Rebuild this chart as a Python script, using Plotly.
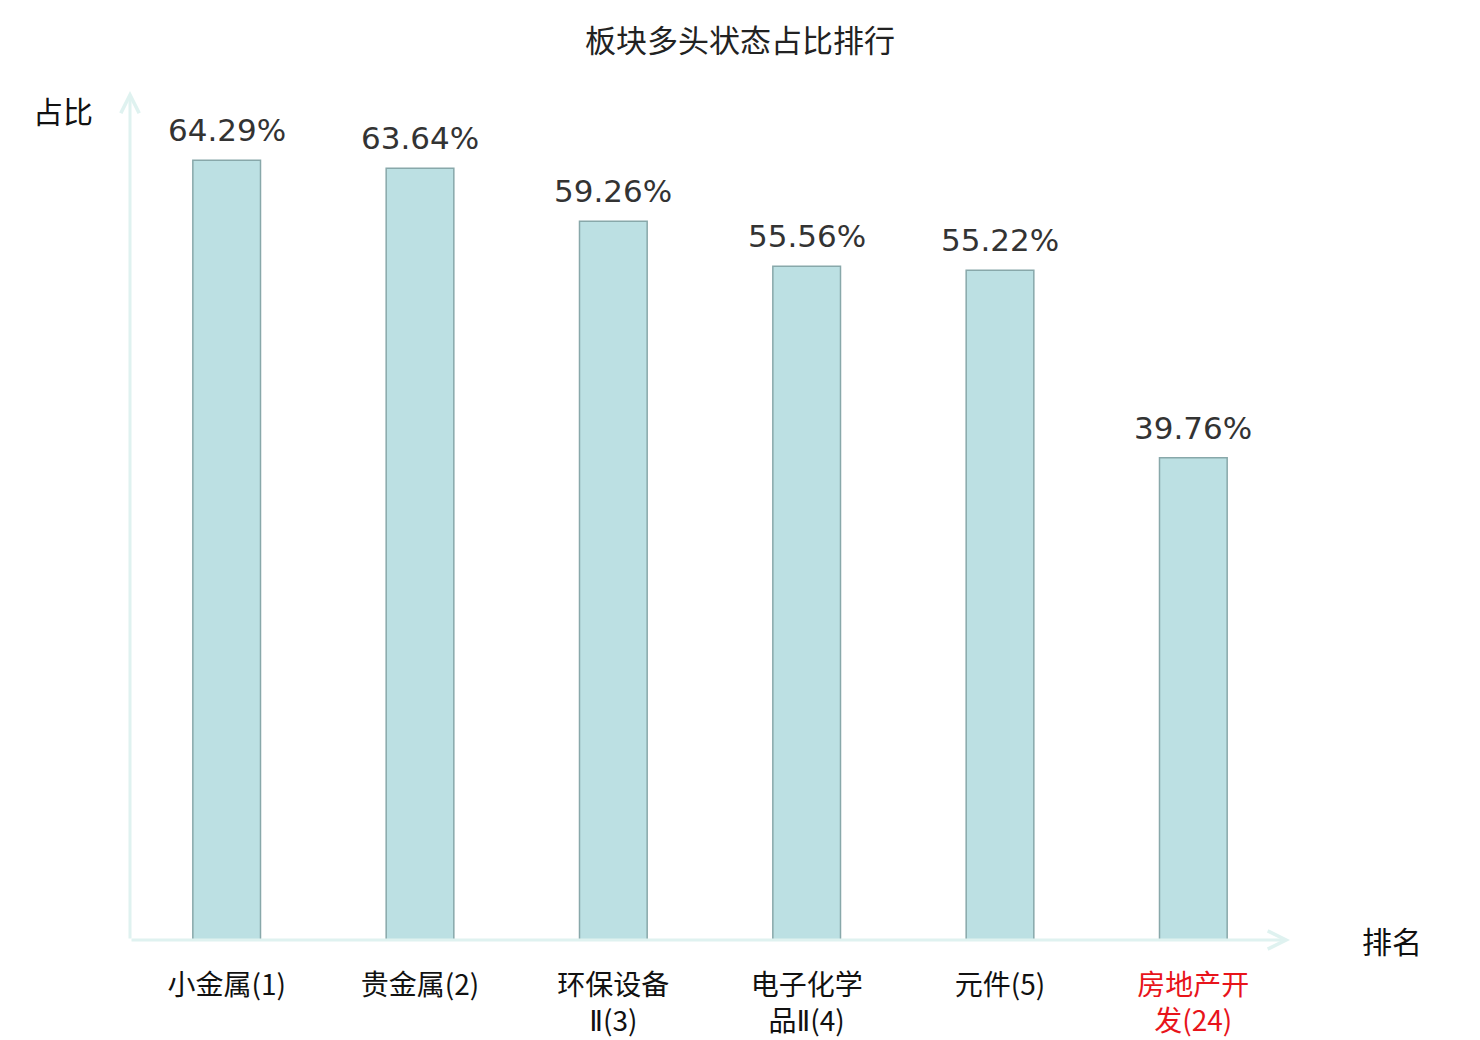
import plotly.graph_objects as go

categories = ["小金属(1)", "贵金属(2)", "环保设备Ⅱ(3)", "电子化学品Ⅱ(4)", "元件(5)", "房地产开发(24)"]
roman2 = "<span style='font-family:DejaVu Sans'>Ⅱ</span>"
tick_labels = ["小金属(1)", "贵金属(2)", "环保设备<br>" + roman2 + "(3)", "电子化学<br>品" + roman2 + "(4)", "元件(5)",
               "<span style='color:#e8141b'>房地产开<br>发(24)</span>"]
values = [64.29, 63.64, 59.26, 55.56, 55.22, 39.76]

fig = go.Figure()
fig.add_trace(go.Bar(
    x=categories, y=values,
    width=0.35,
    marker=dict(color="#bce0e3", line=dict(color="#88a8aa", width=1.5)),
    hoverinfo="x+y",
))

# value labels above bars
for c, v in zip(categories, values):
    fig.add_annotation(x=c, y=v, text=f"{v:.2f}%", showarrow=False,
                       yanchor="bottom", yshift=10,
                       font=dict(family="DejaVu Sans", size=31, color="#333333"))

axis_color = "#dff2f0"
fig.update_layout(
    width=1480, height=1040,
    margin=dict(l=122, r=198, t=83, b=108),
    plot_bgcolor="white", paper_bgcolor="white",
    showlegend=False,
    title=dict(text="板块多头状态占比排行", x=(740 - 8) / 1480, xanchor="center",
               y=0.968, yanchor="middle",
               font=dict(family="Noto Sans CJK SC", size=31, color="#222222")),
    xaxis=dict(tickmode="array", tickvals=categories, ticktext=tick_labels,
               showline=False, showgrid=False, ticks="", ticklabelstandoff=26,
               automargin=False,
               tickfont=dict(family="Noto Sans CJK SC", size=28, color="#111111")),
    yaxis=dict(range=[0, 70], showline=False, showgrid=False, zeroline=False,
               showticklabels=False, ticks="", automargin=False),
)

# axes drawn as arrows
fig.add_annotation(xref="x domain", yref="y domain", x=1.0, y=0, ax=0, ay=0,
                   axref="x domain", ayref="y domain", showarrow=True, arrowhead=5,
                   arrowsize=1.2, arrowwidth=3, arrowcolor=axis_color, text="")
fig.add_annotation(xref="x domain", yref="y domain", x=0, y=1.0, ax=0, ay=0,
                   axref="x domain", ayref="y domain", showarrow=True, arrowhead=5,
                   arrowsize=1.2, arrowwidth=3, arrowcolor=axis_color, text="")
fig.add_annotation(xref="paper", yref="paper", x=-0.0578, y=0.9776, xanchor="center", yanchor="middle",
                   text="占比", showarrow=False,
                   font=dict(family="Noto Sans CJK SC", size=30, color="#111111"))
fig.add_annotation(xref="paper", yref="paper", x=1.088, y=0, xanchor="center", yanchor="middle",
                   text="排名", showarrow=False,
                   font=dict(family="Noto Sans CJK SC", size=30, color="#111111"))

fig.write_html("out.html")
